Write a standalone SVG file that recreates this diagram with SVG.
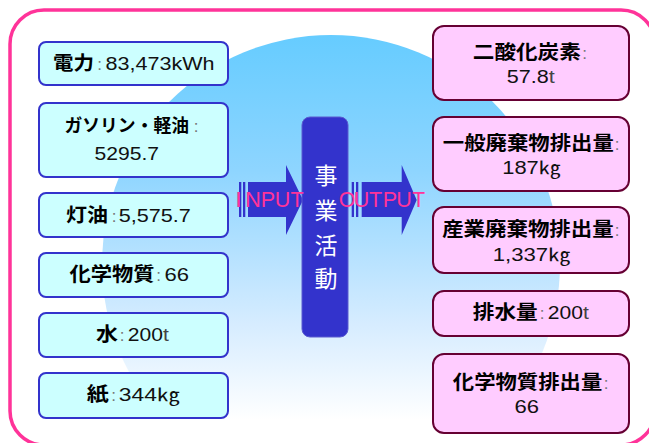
<svg xmlns="http://www.w3.org/2000/svg" width="649" height="443" viewBox="0 0 649 443">
<style>
.lb{font-family:"Liberation Sans","Noto Sans CJK JP",sans-serif;font-weight:700;font-size:19.5px;fill:#000}
.v{font-family:"Liberation Sans","Noto Sans CJK JP",sans-serif;font-size:17.5px;fill:#111}
.c{font-family:"Liberation Sans",sans-serif;font-size:17px;fill:#777;text-anchor:middle}
.inb{fill:#CCFFFF;stroke:#3333CC;stroke-width:2}
.outb{fill:#FFCCFF;stroke:#660033;stroke-width:2}
.ar{fill:#3333CC}
.io{font-family:"Liberation Sans",sans-serif;font-size:21.5px;fill:#FF3399;text-anchor:middle}
.core{font-family:"Noto Sans CJK JP",sans-serif;font-size:23px;fill:#fff;text-anchor:middle}
</style>
<defs>
<linearGradient id="bg" gradientUnits="userSpaceOnUse" x1="0" y1="36" x2="0" y2="420">
<stop offset="0" stop-color="#66CCFF"/>
<stop offset="0.35" stop-color="#8ED5FF"/>
<stop offset="0.75" stop-color="#D6ECFF"/>
<stop offset="1" stop-color="#FFFFFF"/>
</linearGradient>
</defs>
<rect width="649" height="443" fill="#fff"/>
<rect x="10" y="10" width="645" height="435" rx="34" fill="none" stroke="#FF3399" stroke-width="3.5"/>
<circle cx="331" cy="264" r="229" fill="url(#bg)"/>

<g id="connectors">
<rect class="ar" x="239" y="182" width="2.3" height="35"/>
<rect class="ar" x="243" y="182" width="2.3" height="35"/>
<polygon class="ar" points="248,182 286,182 286,165 303,200 286,235 286,217 248,217"/>
<rect class="ar" x="351.7" y="182" width="2.3" height="35"/>
<rect class="ar" x="356" y="182" width="2.3" height="35"/>
<polygon class="ar" points="361.7,182 401.7,182 401.7,165 416.7,200 401.7,235 401.7,217 361.7,217"/>
</g>

<g id="core">
<rect x="302" y="117" width="46" height="220" rx="8" fill="#3333CC" stroke="#5A5ACF" stroke-width="1"/>
<text class="core"><tspan x="326" y="184">事</tspan><tspan x="326" y="219">業</tspan><tspan x="326" y="254">活</tspan><tspan x="326" y="287">動</tspan></text>
</g>

<g id="io-labels">
<text class="io" x="238.5 253 268 282.5 297" y="207">INPUT</text>
<text class="io" x="347 361.5 375.5 390 404 418.5" y="207">OUTPUT</text>
</g>

<g id="in-electricity">
<rect class="inb" x="39" y="42" width="189" height="43" rx="7"/>
<text class="lb" x="53" y="69.5" textLength="41" lengthAdjust="spacingAndGlyphs">電力</text>
<text class="c" x="99.5" y="69.5">:</text>
<text class="v" x="105.5" y="69.5" textLength="109" lengthAdjust="spacingAndGlyphs">83,473kWh</text>
</g>
<g id="in-gasoline">
<rect class="inb" x="39" y="103" width="189" height="74" rx="7"/>
<text class="lb" x="64.5" y="131.5" style="font-size:17.8px" textLength="124.5" lengthAdjust="spacingAndGlyphs">ガソリン・軽油</text>
<text class="c" x="196" y="131.5">:</text>
<text class="v" x="94.5" y="160" textLength="64.5" lengthAdjust="spacingAndGlyphs">5295.7</text>
</g>
<g id="in-kerosene">
<rect class="inb" x="39" y="193" width="189" height="44" rx="7"/>
<text class="lb" x="66" y="221.5" textLength="42" lengthAdjust="spacingAndGlyphs">灯油</text>
<text class="c" x="114" y="221.5">:</text>
<text class="v" x="118.8" y="221.5" textLength="72" lengthAdjust="spacingAndGlyphs">5,575.7</text>
</g>
<g id="in-chemicals">
<rect class="inb" x="39" y="253" width="189" height="44" rx="7"/>
<text class="lb" x="69.5" y="280.5" textLength="85" lengthAdjust="spacingAndGlyphs">化学物質</text>
<text class="c" x="158.5" y="280.5">:</text>
<text class="v" x="164.5" y="280.5" textLength="24.5" lengthAdjust="spacingAndGlyphs">66</text>
</g>
<g id="in-water">
<rect class="inb" x="39" y="313" width="189" height="44" rx="7"/>
<text class="lb" x="96" y="340.7" textLength="22" lengthAdjust="spacingAndGlyphs">水</text>
<text class="c" x="122" y="340.7">:</text>
<text class="v" x="127.8" y="340.7" textLength="41" lengthAdjust="spacingAndGlyphs">200<tspan fill="#444">t</tspan></text>
</g>
<g id="in-paper">
<rect class="inb" x="39" y="373" width="189" height="45" rx="7"/>
<text class="lb" x="86.8" y="400.5" textLength="22" lengthAdjust="spacingAndGlyphs">紙</text>
<text class="c" x="113.5" y="400.5">:</text>
<text class="v" x="118.8" y="400.5" textLength="61" lengthAdjust="spacingAndGlyphs">344㎏</text>
</g>

<g id="out-co2">
<rect class="outb" x="433" y="26" width="196" height="74" rx="11"/>
<text class="lb" x="472.8" y="58.5" textLength="108" lengthAdjust="spacingAndGlyphs">二酸化炭素</text>
<text class="c" x="584.5" y="58.5">:</text>
<text class="v" x="506.8" y="83.3" textLength="48" lengthAdjust="spacingAndGlyphs">57.8<tspan fill="#444">t</tspan></text>
</g>
<g id="out-general-waste">
<rect class="outb" x="433" y="117" width="196" height="74" rx="11"/>
<text class="lb" x="442.8" y="150.3" textLength="171" lengthAdjust="spacingAndGlyphs">一般廃棄物排出量</text>
<text class="c" x="617" y="150.3">:</text>
<text class="v" x="502.2" y="174.3" textLength="58.5" lengthAdjust="spacingAndGlyphs">187㎏</text>
</g>
<g id="out-industrial-waste">
<rect class="outb" x="433" y="207" width="196" height="66" rx="11"/>
<text class="lb" x="442.2" y="236.3" textLength="171.5" lengthAdjust="spacingAndGlyphs">産業廃棄物排出量</text>
<text class="c" x="617" y="236.3">:</text>
<text class="v" x="492.8" y="261" textLength="77.5" lengthAdjust="spacingAndGlyphs">1,337㎏</text>
</g>
<g id="out-wastewater">
<rect class="outb" x="433" y="291" width="196" height="45" rx="11"/>
<text class="lb" x="472.8" y="319.3" textLength="65" lengthAdjust="spacingAndGlyphs">排水量</text>
<text class="c" x="542" y="319.3">:</text>
<text class="v" x="547.8" y="319.3" textLength="41" lengthAdjust="spacingAndGlyphs">200<tspan fill="#444">t</tspan></text>
</g>
<g id="out-chemicals">
<rect class="outb" x="433" y="354" width="196" height="79" rx="11"/>
<text class="lb" x="452.8" y="389.3" textLength="149.5" lengthAdjust="spacingAndGlyphs">化学物質排出量</text>
<text class="c" x="606" y="389.3">:</text>
<text class="v" x="514.5" y="413.3" textLength="24.5" lengthAdjust="spacingAndGlyphs">66</text>
</g>
</svg>
